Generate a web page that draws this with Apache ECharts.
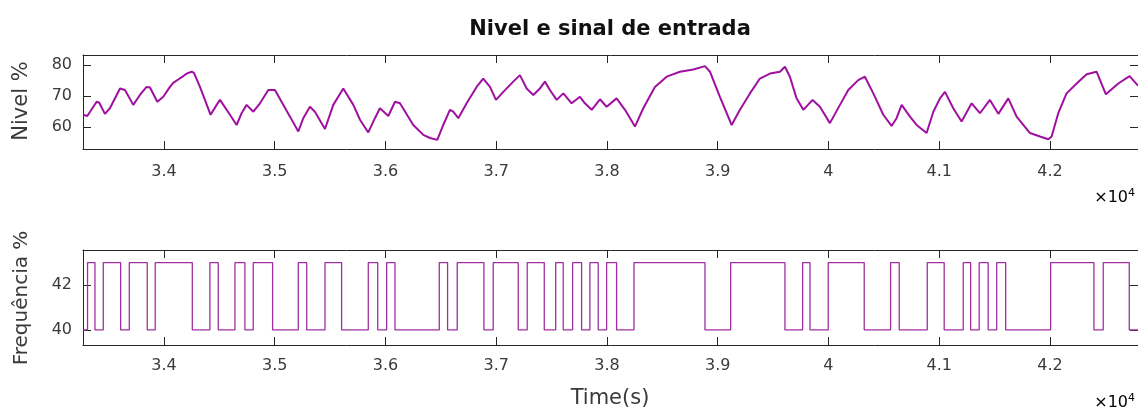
<!DOCTYPE html>
<html>
<head>
<meta charset="utf-8">
<script src="https://cdn.jsdelivr.net/npm/echarts@6/dist/echarts.min.js"></script>
<style>
  html, body { margin: 0; padding: 0; background: #fff; }
  #chart { width: 1138px; height: 412px; }
</style>
</head>
<body>
<div id="chart"></div>
<script>
// Time axis (seconds) shared by both panels
const timeMin = 33269;
const timeMax = 42795;
const timeTicks = [34000, 35000, 36000, 37000, 38000, 39000, 40000, 41000, 42000];

// Level (%) sampled along time
const nivelTime = [
  33269, 33308, 33392, 33416, 33467, 33512, 33603, 33648, 33723, 33783,
  33843, 33874, 33940, 33994, 34054, 34084, 34129, 34175, 34205, 34250,
  34271, 34325, 34370, 34421, 34476, 34506, 34596, 34656, 34701, 34746,
  34807, 34867, 34942, 35002, 35062, 35138, 35213, 35258, 35318, 35363,
  35454, 35529, 35619, 35710, 35770, 35845, 35905, 35950, 36026, 36086,
  36131, 36251, 36342, 36402, 36468, 36522, 36582, 36612, 36658, 36733,
  36823, 36883, 36944, 36998, 37064, 37154, 37214, 37275, 37335, 37395,
  37440, 37485, 37546, 37606, 37681, 37756, 37801, 37862, 37937, 37997,
  38087, 38163, 38253, 38328, 38433, 38539, 38659, 38780, 38885, 38930,
  39020, 39126, 39201, 39291, 39381, 39472, 39562, 39607, 39652, 39712,
  39773, 39857, 39923, 40013, 40104, 40179, 40269, 40329, 40405, 40495,
  40570, 40615, 40661, 40736, 40796, 40886, 40947, 41007, 41052, 41127,
  41202, 41293, 41368, 41458, 41534, 41624, 41699, 41820, 41910, 41985,
  42015, 42075, 42150, 42241, 42331, 42421, 42505, 42617, 42719, 42795
];
const nivelValue = [
  64.0, 63.6, 68.2, 67.9, 64.3, 66.1, 72.5, 72.0, 67.2, 70.4,
  73.0, 72.8, 68.2, 69.8, 73.0, 74.3, 75.4, 76.5, 77.3, 77.9,
  77.5, 73.0, 68.8, 64.0, 67.2, 68.8, 64.0, 60.7, 64.5, 67.2,
  65.0, 67.7, 72.0, 72.0, 68.2, 63.4, 58.6, 62.9, 66.6, 65.0,
  59.4, 67.2, 72.5, 67.2, 62.4, 58.3, 62.9, 66.1, 63.6, 68.2,
  67.7, 60.7, 57.5, 56.5, 55.9, 60.7, 65.6, 65.0, 62.9, 67.7,
  73.0, 75.7, 73.0, 68.8, 71.4, 74.7, 76.8, 72.5, 70.4, 72.5,
  74.7, 72.0, 68.8, 70.9, 67.7, 69.8, 67.7, 65.6, 69.0, 66.6,
  69.3, 65.6, 60.2, 66.1, 73.0, 76.3, 77.9, 78.6, 79.7, 77.9,
  69.8, 60.7, 65.6, 70.9, 75.7, 77.3, 77.9, 79.5, 76.3, 69.3,
  65.6, 68.8, 66.6, 61.3, 67.2, 72.0, 75.2, 76.3, 70.9, 64.0,
  60.4, 62.9, 67.2, 63.4, 60.7, 58.1, 65.0, 69.3, 71.4, 66.1,
  61.8, 67.7, 64.5, 68.8, 64.3, 69.3, 63.4, 58.1, 57.0, 56.1,
  57.0, 64.5, 70.9, 74.1, 77.1, 77.9, 70.6, 74.1, 76.5, 73.4
];
const nivelTicks = [60, 70, 80];

// Input frequency (%) toggles between two levels at these instants
const freqLow = 40;
const freqHigh = 43;
const freqSwitchTimes = [
  33310, 33377, 33452, 33609, 33687, 33849, 33921, 34256, 34415, 34490,
  34641, 34731, 34806, 34981, 35213, 35289, 35454, 35604, 35845, 35930,
  36011, 36086, 36486, 36561, 36648, 36889, 36973, 37199, 37280, 37434,
  37537, 37605, 37690, 37771, 37846, 37921, 37997, 38087, 38244, 38885,
  39117, 39607, 39767, 39833, 39998, 40323, 40561, 40639, 40892, 41045,
  41217, 41284, 41361, 41442, 41519, 41600, 42006, 42397, 42481, 42716
];
const freqTicks = [40, 42];

// Square wave points built from the switch instants
const freqPoints = [];
let level = freqLow;
freqPoints.push([timeMin, level]);
for (const t of freqSwitchTimes) {
  freqPoints.push([t, level]);
  level = (level === freqLow) ? freqHigh : freqLow;
  freqPoints.push([t, level]);
}
freqPoints.push([timeMax, level]);

const nivelPoints = nivelTime.map((t, i) => [t, nivelValue[i]]);

const FONT = 'DejaVu Sans';
const AXIS_COLOR = '#262626';
const TEXT_COLOR = '#3a3a3a';
const LINE_COLOR = '#a010a0';

function xAxisPair(gridIndex, labelMargin) {
  const common = {
    type: 'value', gridIndex: gridIndex, min: timeMin, max: timeMax,
    splitLine: { show: false },
    axisLine: { show: true, lineStyle: { color: AXIS_COLOR, width: 1 } },
    axisTick: { show: true, inside: true, length: 8, customValues: timeTicks,
                lineStyle: { color: AXIS_COLOR, width: 1 } }
  };
  return [
    Object.assign({}, common, {
      position: 'bottom',
      axisLabel: { show: true, customValues: timeTicks, margin: labelMargin,
                   color: TEXT_COLOR, fontFamily: FONT, fontSize: 16,
                   formatter: v => String(+(v / 1e4).toFixed(1)) }
    }),
    Object.assign({}, common, { position: 'top', axisLabel: { show: false } })
  ];
}

function yAxisPair(gridIndex, min, max, ticks) {
  const common = {
    type: 'value', gridIndex: gridIndex, min: min, max: max,
    splitLine: { show: false },
    axisLine: { show: true, lineStyle: { color: AXIS_COLOR, width: 1 } },
    axisTick: { show: true, inside: true, length: 8, customValues: ticks,
                lineStyle: { color: AXIS_COLOR, width: 1 } }
  };
  return [
    Object.assign({}, common, {
      position: 'left',
      axisLabel: { show: true, customValues: ticks, margin: 11,
                   color: TEXT_COLOR, fontFamily: FONT, fontSize: 16 }
    }),
    Object.assign({}, common, { position: 'right', axisLabel: { show: false } })
  ];
}

const chart = echarts.init(document.getElementById('chart'), null, { renderer: 'canvas' });

chart.setOption({
  animation: false,
  backgroundColor: '#ffffff',
  grid: [
    { left: 83, right: 0, top: 55, height: 94 },
    { left: 83, right: 0, top: 250, height: 95 }
  ],
  xAxis: [].concat(xAxisPair(0, 15), xAxisPair(1, 13)),
  yAxis: [].concat(yAxisPair(0, 52.95, 83.3, nivelTicks), yAxisPair(1, 39.33, 43.56, freqTicks)),
  series: [
    {
      name: 'Nivel', type: 'line', xAxisIndex: 0, yAxisIndex: 0,
      data: nivelPoints, showSymbol: false, clip: true,
      lineStyle: { color: LINE_COLOR, width: 2 }
    },
    {
      name: 'Frequência', type: 'line', xAxisIndex: 2, yAxisIndex: 2,
      data: freqPoints, showSymbol: false, clip: true,
      lineStyle: { color: '#a030a0', width: 1.3 }
    }
  ],
  graphic: [
    { type: 'text', x: 610, y: 30,
      style: { text: 'Nivel e sinal de entrada', font: 'bold 21px "DejaVu Sans"', fill: '#111',
               align: 'center', verticalAlign: 'middle' } },
    { type: 'text', x: 22, y: 101, rotation: Math.PI / 2,
      style: { text: 'Nivel %', font: '21px "DejaVu Sans"', fill: TEXT_COLOR,
               align: 'center', verticalAlign: 'middle' } },
    { type: 'text', x: 22, y: 298, rotation: Math.PI / 2,
      style: { text: 'Frequência %', font: '20px "DejaVu Sans"', fill: TEXT_COLOR,
               align: 'center', verticalAlign: 'middle' } },
    { type: 'text', x: 610, y: 399,
      style: { text: 'Time(s)', font: '21px "DejaVu Sans"', fill: TEXT_COLOR,
               align: 'center', verticalAlign: 'middle' } },
    { type: 'text', x: 1135, y: 207,
      style: { text: '{a|×10}{b|4}', align: 'right', verticalAlign: 'bottom',
               rich: { a: { fontFamily: FONT, fontSize: 16, color: TEXT_COLOR },
                       b: { fontFamily: FONT, fontSize: 11, color: TEXT_COLOR, verticalAlign: 'top', padding: [0, 0, 8, 0] } } } },
    { type: 'text', x: 1135, y: 412,
      style: { text: '{a|×10}{b|4}', align: 'right', verticalAlign: 'bottom',
               rich: { a: { fontFamily: FONT, fontSize: 16, color: TEXT_COLOR },
                       b: { fontFamily: FONT, fontSize: 11, color: TEXT_COLOR, verticalAlign: 'top', padding: [0, 0, 8, 0] } } } }
  ]
});
</script>
</body>
</html>
